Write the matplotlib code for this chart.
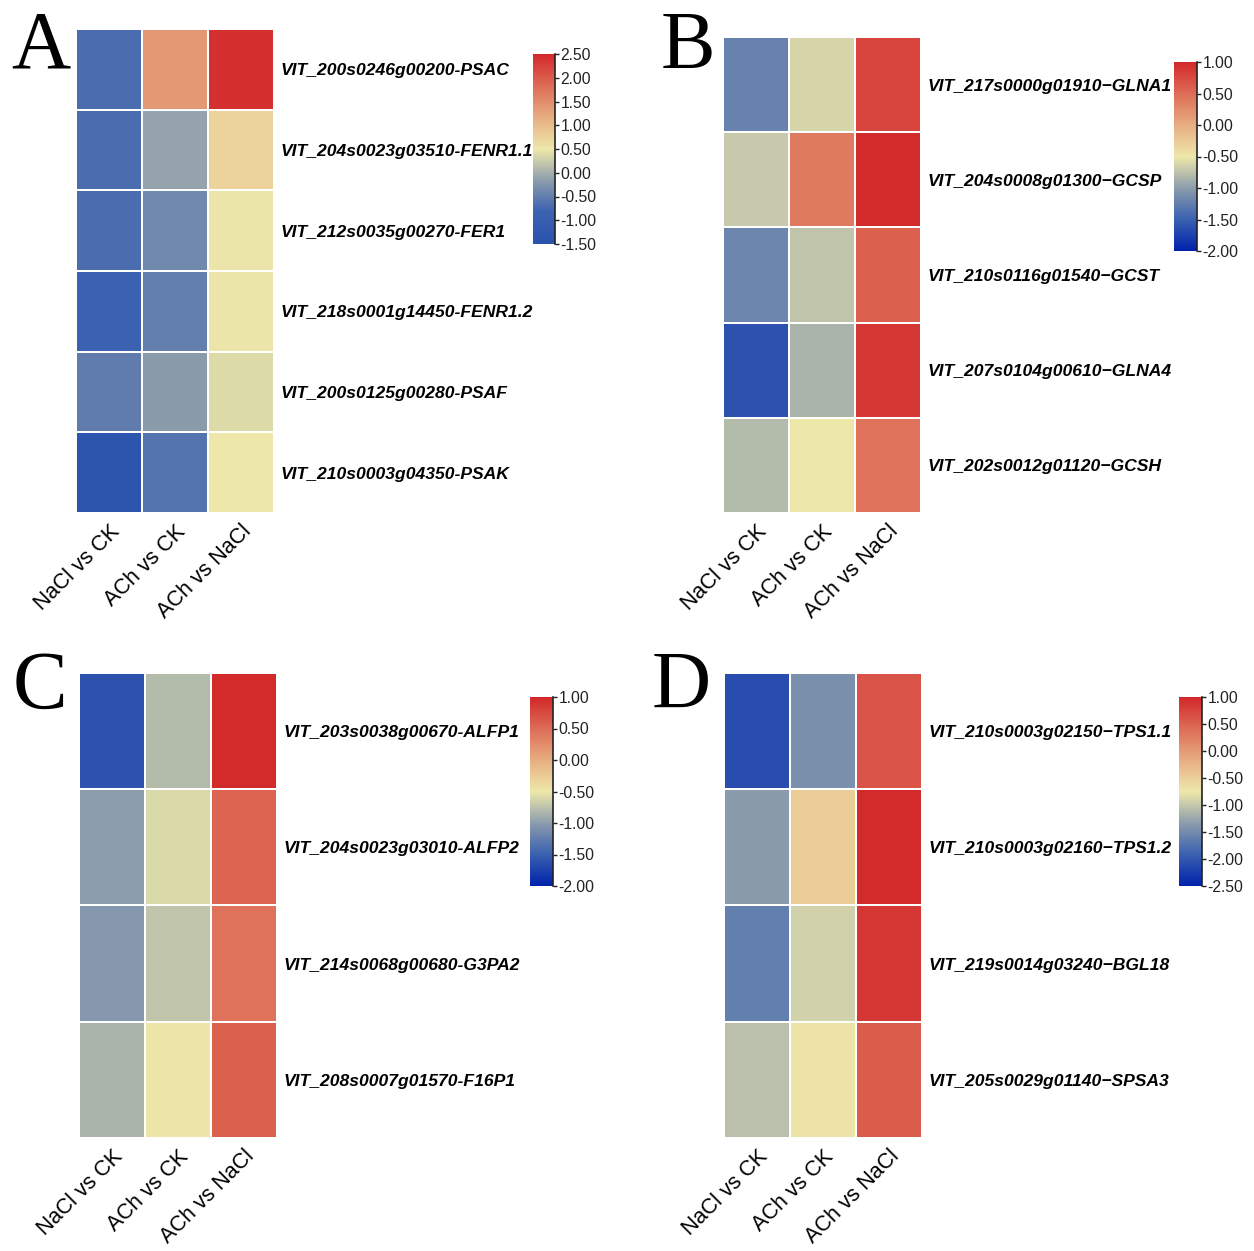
import matplotlib
matplotlib.use("Agg")
import matplotlib.pyplot as plt
import numpy as np
from matplotlib.colors import LinearSegmentedColormap

plt.rcParams["axes.unicode_minus"] = False

# --------------------------------------------------------------------------- #
# Data (log2 fold change)
# --------------------------------------------------------------------------- #
comparisons = ["NaCl vs CK", "ACh vs CK", "ACh vs NaCl"]

genes_a = ["VIT_200s0246g00200-PSAC", "VIT_204s0023g03510-FENR1.1",
           "VIT_212s0035g00270-FER1", "VIT_218s0001g14450-FENR1.2",
           "VIT_200s0125g00280-PSAF", "VIT_210s0003g04350-PSAK"]
values_a = [[-0.70, 1.38, 2.42],
            [-0.70, -0.10, 0.74],
            [-0.70, -0.38, 0.48],
            [-0.85, -0.50, 0.47],
            [-0.52, -0.18, 0.38],
            [-1.35, -0.62, 0.50]]

genes_b = ["VIT_217s0000g01910\u2212GLNA1", "VIT_204s0008g01300\u2212GCSP",
           "VIT_210s0116g01540\u2212GCST", "VIT_207s0104g00610\u2212GLNA4",
           "VIT_202s0012g01120\u2212GCSH"]
values_b = [[-1.22, -0.62, 0.78],
            [-0.70, 0.40, 0.98],
            [-1.18, -0.74, 0.58],
            [-1.62, -0.84, 0.88],
            [-0.80, -0.50, 0.45]]

genes_c = ["VIT_203s0038g00670-ALFP1", "VIT_204s0023g03010-ALFP2",
           "VIT_214s0068g00680-G3PA2", "VIT_208s0007g01570-F16P1"]
values_c = [[-1.62, -0.80, 0.98],
            [-1.00, -0.60, 0.56],
            [-1.04, -0.74, 0.45],
            [-0.85, -0.47, 0.58]]

genes_d = ["VIT_210s0003g02150\u2212TPS1.1", "VIT_210s0003g02160\u2212TPS1.2",
           "VIT_219s0014g03240\u2212BGL18", "VIT_205s0029g01140\u2212SPSA3"]
values_d = [[-2.10, -1.45, 0.62],
            [-1.35, -0.48, 0.96],
            [-1.62, -0.92, 0.86],
            [-1.06, -0.70, 0.56]]

ranges = {"A": (-1.5, 2.5), "B": (-2.0, 1.0), "C": (-2.0, 1.0), "D": (-2.5, 1.0)}


def make_cmap(low):
    anchors = [(0.0, low), (0.17, "#3C62B0"), (0.33, "#8A9BAC"), (0.5, "#EEE8AA"),
               (0.67, "#E7AC80"), (0.83, "#DD6E57"), (1.0, "#D3282A")]
    return LinearSegmentedColormap.from_list("fc", anchors)


W, H = 1254, 1251


def px_axes(fig, x0, y0, x1, y1):
    return fig.add_axes([x0 / W, 1 - y1 / H, (x1 - x0) / W, (y1 - y0) / H])


def draw_panel(fig, letter, genes, values, box, cbox, letter_xy, cmap):
    vmin, vmax = ranges[letter]
    data = np.array(values)
    ax = px_axes(fig, *box)
    mesh = ax.pcolormesh(data, cmap=cmap, vmin=vmin, vmax=vmax,
                         edgecolors="white", linewidth=1.2)
    ax.set_xlim(0, data.shape[1])
    ax.set_ylim(data.shape[0], 0)
    for s in ax.spines.values():
        s.set_visible(False)
    ax.yaxis.tick_right()
    ax.set_yticks(np.arange(len(genes)) + 0.5)
    ax.set_yticklabels(genes, fontsize=12.6, fontweight="bold", fontstyle="italic",
                       family="Liberation Sans")
    ax.tick_params(axis="y", length=0, pad=5)
    ax.set_xticks([])
    # row height in data units for a ~8 px gap under the cells
    gap = 8 / ((box[3] - box[1]) / data.shape[0])
    for j, lab in enumerate(comparisons):
        ax.text(j + 0.5, data.shape[0] + gap, lab,
                rotation=45, rotation_mode="anchor", ha="right", va="top",
                fontsize=15.5, family="Liberation Sans")

    cax = px_axes(fig, *cbox)
    cb = fig.colorbar(mesh, cax=cax)
    cb.outline.set_visible(False)
    ticks = np.arange(vmin, vmax + 0.01, 0.5)
    cb.set_ticks(ticks)
    cb.set_ticklabels([f"{t:.2f}" for t in ticks])
    cax.tick_params(labelsize=11.3, length=3, width=1, pad=1, colors="#222222")
    for t in cax.get_yticklabels():
        t.set_family("Liberation Sans")
    cax.plot([1, 1], [0, 1], transform=cax.transAxes, color="#222222", lw=1.2,
             clip_on=False)

    fig.text(letter_xy[0] / W, 1 - letter_xy[1] / H, letter, fontsize=59,
             family="Liberation Serif", ha="left", va="baseline")


fig = plt.figure(figsize=(W / 100, H / 100), dpi=100)

draw_panel(fig, "A", genes_a, values_a, (76, 29, 274, 513), (533, 54, 555, 244),
           (11, 68), make_cmap("#2A52AE"))
draw_panel(fig, "B", genes_b, values_b, (723, 37, 921, 513), (1174, 62, 1197, 251),
           (661, 68), make_cmap("#0022AC"))
draw_panel(fig, "C", genes_c, values_c, (79, 673, 277, 1138), (530, 697, 553, 886),
           (13, 708), make_cmap("#0022AC"))
draw_panel(fig, "D", genes_d, values_d, (724, 673, 922, 1138), (1179, 697, 1202, 886),
           (652, 708), make_cmap("#0022AC"))

fig.savefig("out.png", dpi=100, facecolor="white")
